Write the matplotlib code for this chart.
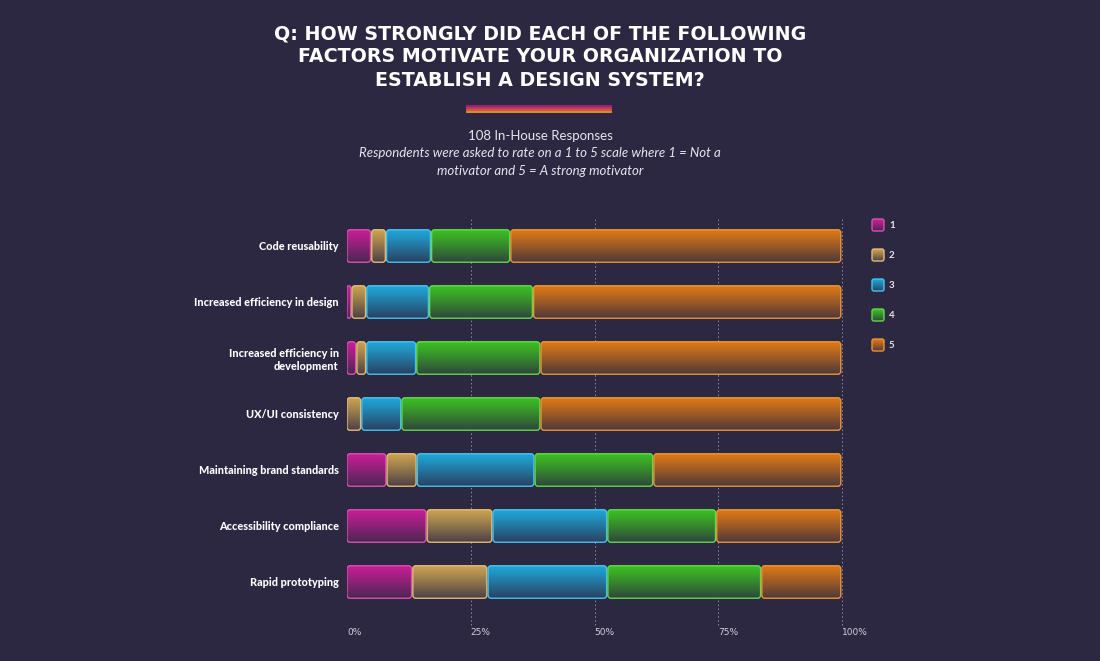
import numpy as np
import matplotlib.pyplot as plt
from matplotlib.patches import FancyBboxPatch
from matplotlib.colors import to_rgb

# --- data ---
factors = ['Code reusability', 'Increased efficiency in design',
           'Increased efficiency in\ndevelopment', 'UX/UI consistency',
           'Maintaining brand standards', 'Accessibility compliance',
           'Rapid prototyping']
ratings = ['1', '2', '3', '4', '5']
r1 = [5.0, 1.0, 2.0, 0.0, 8.1, 16.2, 13.3]
r2 = [3.0, 3.0, 2.0, 3.0, 6.1, 13.3, 15.2]
r3 = [9.1, 12.7, 10.1, 8.1, 23.8, 23.2, 24.2]
r4 = [16.0, 21.0, 25.1, 28.1, 24.0, 22.0, 31.1]
r5 = [66.9, 62.3, 60.8, 60.8, 38.0, 25.3, 16.2]
xticks = [0, 25, 50, 75, 100]
xticklabels = ['0%', '25%', '50%', '75%', '100%']

bg = '#2c2842'
tops = ['#c81f98', '#cca452', '#1fa8da', '#3cc222', '#e07a16']
edges = ['#d94fb0', '#e3bb72', '#45c3ef', '#62d84a', '#eb9535']


def grad_box(ax, x0, y0, w, h, color, edge, r, aspect, z=3):
    # rounded box filled with a vertical gradient: color at top, fading into bg
    r = min(r, w / 2)
    patch = FancyBboxPatch((x0, y0), w, h,
                           boxstyle=f"round,pad=0,rounding_size={r}",
                           mutation_aspect=aspect, facecolor='none',
                           edgecolor=edge, lw=1.0, zorder=z + 1)
    ax.add_patch(patch)
    c = np.array(to_rgb(color))
    b = np.array(to_rgb(bg))
    g = np.linspace(0, 1, 64)[:, None, None] ** 1.1 * 0.8
    img = c * (1 - g) + b * g
    im = ax.imshow(img, extent=(x0, x0 + w, y0 + h, y0), origin='upper',
                   aspect='auto', interpolation='bilinear', zorder=z)
    im.set_clip_path(patch)


fig = plt.figure(figsize=(11, 6.61), dpi=100, facecolor=bg)

# title
title_lines = ['Q: HOW STRONGLY DID EACH OF THE FOLLOWING',
               'FACTORS MOTIVATE YOUR ORGANIZATION TO',
               'ESTABLISH A DESIGN SYSTEM?']
for i, line in enumerate(title_lines):
    fig.text(540 / 1100, 1 - (34 + 23 * i) / 661, line, ha='center', va='center',
             fontsize=13.7, fontweight='bold', color='white', family='DejaVu Sans')

# decorative stripes
for yy, col in zip([105.5, 107.5, 109.5, 111.5], ['#a8207c', '#c83c72', '#e0602e', '#eb9632']):
    fig.add_artist(plt.Line2D([467 / 1100, 611 / 1100], [1 - yy / 661] * 2,
                              color=col, lw=1.3))

fig.text(540 / 1100, 1 - 136 / 661, '108 In-House Responses', ha='center', va='center',
         fontsize=9.5, color='#e6e4ee', family='Lato')
fig.text(540 / 1100, 1 - 153 / 661,
         'Respondents were asked to rate on a 1 to 5 scale where 1 = Not a',
         ha='center', va='center', fontsize=9.5, style='italic', color='#e6e4ee', family='Lato')
fig.text(540 / 1100, 1 - 171 / 661, 'motivator and 5 = A strong motivator',
         ha='center', va='center', fontsize=9.5, style='italic', color='#e6e4ee', family='Lato')

# main axes
ax = fig.add_axes([347 / 1100, 1 - 625 / 661, 495 / 1100, 407 / 661])
ax.set_facecolor('none')
aspect = (1 / 56) / (1 / 4.95)
bar_h = 0.58
series = [r1, r2, r3, r4, r5]
for row in range(len(factors)):
    left = 0.0
    for k, vals in enumerate(series):
        v = vals[row]
        if v > 0:
            grad_box(ax, left, row - bar_h / 2, v - 0.25, bar_h, tops[k], edges[k], 0.6, aspect)
        left += v

for xt in xticks[1:]:
    ax.axvline(xt, color='#8e8aa6', lw=0.7, ls=(0, (1.5, 2.5)), zorder=1, clip_on=False)

ax.set_xlim(0, 100)
ax.set_ylim(6.5 + 15 / 56, -0.5)
ax.set_yticks(range(len(factors)))
ax.set_yticklabels(factors, fontsize=7.8, fontweight='black', color='white', family='Lato')
ax.set_xticks(xticks)
ax.set_xticklabels(xticklabels, fontsize=6.5, color='#d0cfe0', ha='left')
ax.tick_params(length=0)
ax.tick_params(axis='y', pad=6)
ax.tick_params(axis='x', pad=2)
for s in ax.spines.values():
    s.set_visible(False)

# legend
lax = fig.add_axes([860 / 1100, 1 - 360 / 661, 80 / 1100, 150 / 661])
lax.axis('off')
for k, lab in enumerate(ratings):
    yc = 225 + 30 * k
    grad_box(lax, 872, yc - 6, 12, 12, tops[k], edges[k], 2, 1)
    lax.text(889, yc, lab, ha='left', va='center', fontsize=7, fontweight='bold',
             color='#e6e4ee', family='Lato')
lax.set_xlim(860, 940)
lax.set_ylim(360, 210)

fig.savefig('out.png', dpi=100, facecolor=bg)
